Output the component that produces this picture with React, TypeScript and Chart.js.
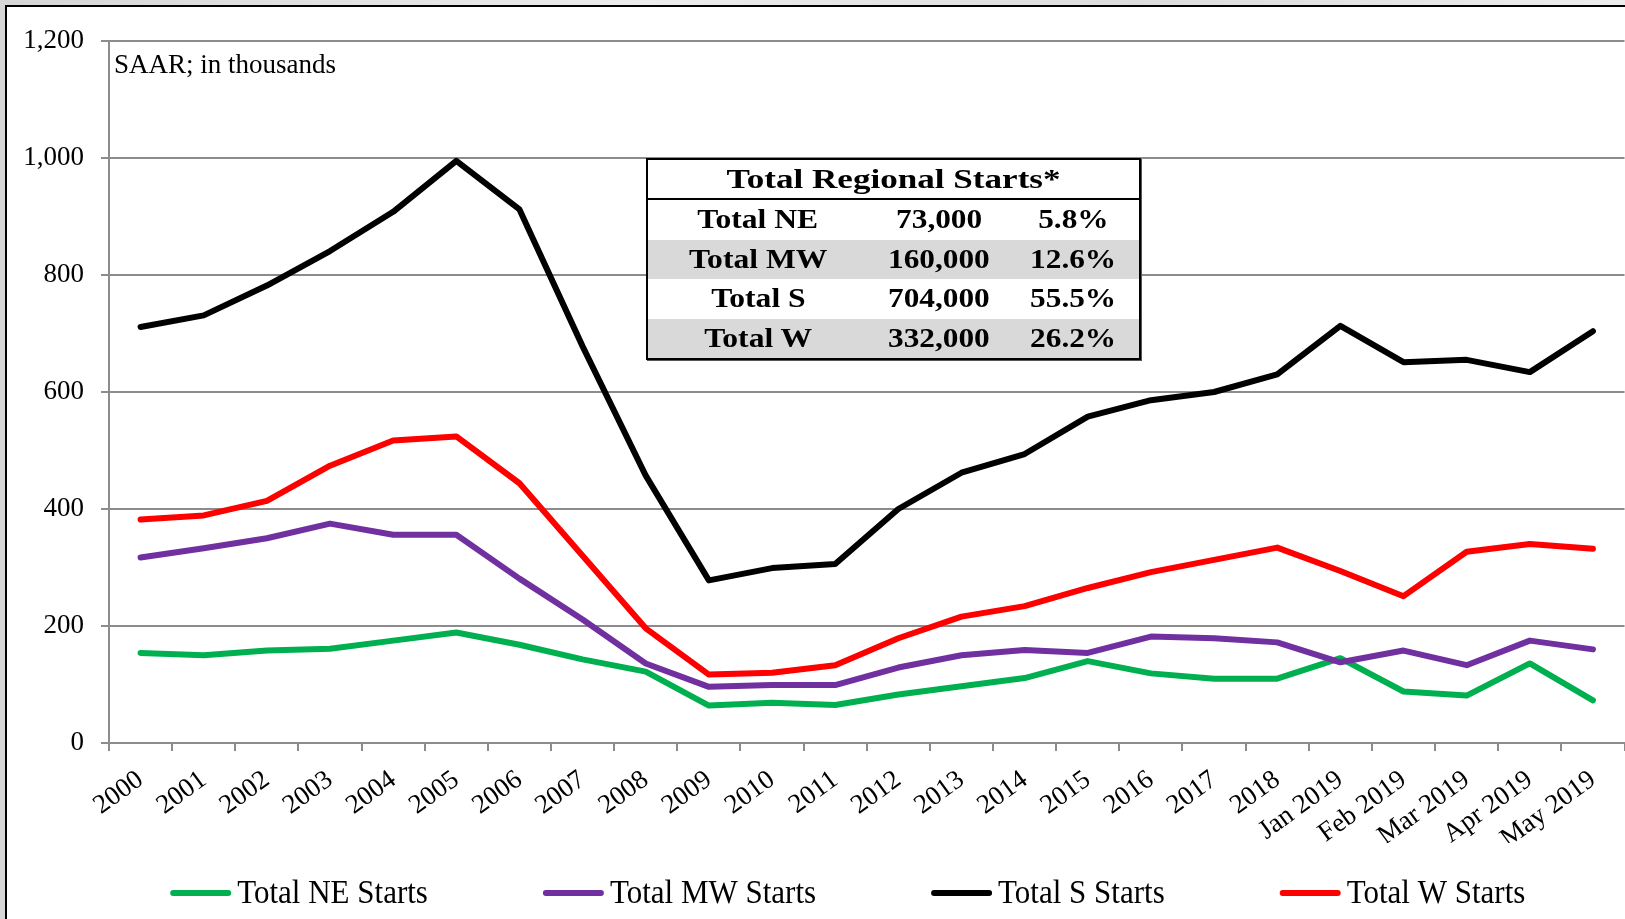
import React, { useEffect, useRef } from 'react';
import { Chart, registerables } from 'chart.js';

Chart.register(...registerables);

const categories = [
  '2000', '2001', '2002', '2003', '2004', '2005', '2006', '2007', '2008', '2009',
  '2010', '2011', '2012', '2013', '2014', '2015', '2016', '2017', '2018',
  'Jan 2019', 'Feb 2019', 'Mar 2019', 'Apr 2019', 'May 2019',
];

const neStarts = [154, 150, 158, 161, 175, 189, 168, 143, 122, 64, 69, 65, 83, 97, 111, 140, 119, 110, 110, 145, 88, 81, 136, 73];
const mwStarts = [317, 333, 350, 375, 356, 356, 281, 211, 136, 96, 99, 99, 129, 150, 159, 154, 182, 179, 172, 138, 158, 133, 175, 160];
const sStarts = [711, 731, 782, 841, 908, 995, 912, 678, 457, 278, 299, 306, 400, 462, 494, 558, 586, 600, 630, 713, 651, 655, 634, 704];
const wStarts = [382, 389, 414, 474, 517, 524, 444, 320, 196, 117, 120, 133, 179, 216, 234, 265, 292, 313, 334, 294, 251, 327, 340, 332];

const seriesLabels = ['Total NE Starts', 'Total MW Starts', 'Total S Starts', 'Total W Starts'];
const seriesColors = ['#00B050', '#7030A0', '#000000', '#FF0000'];

const yTicks = [0, 200, 400, 600, 800, 1000, 1200];
const noteText = 'SAAR; in thousands';

const tableTitle = 'Total Regional Starts*';
const tableRegions = ['Total NE', 'Total MW', 'Total S', 'Total W'];
const tableUnits = ['73,000', '160,000', '704,000', '332,000'];
const tableShares = ['5.8%', '12.6%', '55.5%', '26.2%'];

const SERIF = '"Liberation Serif", "Times New Roman", serif';

const notePlugin = {
  id: 'noteText',
  afterDraw(chart: any) {
    const { ctx, chartArea } = chart;
    ctx.save();
    ctx.font = `27px ${SERIF}`;
    ctx.fillStyle = '#000';
    ctx.textBaseline = 'middle';
    ctx.textAlign = 'left';
    ctx.fillText(noteText, chartArea.left + 5, chartArea.top + 25);
    ctx.restore();
  },
};

const legendPlugin = {
  id: 'bottomLegend',
  afterDraw(chart: any) {
    const { ctx, chartArea } = chart;
    ctx.save();
    ctx.font = `31px ${SERIF}`;
    const lineLen = 61;
    const gap = 6;
    const spacing = 115;
    const items = chart.data.datasets.map((ds: any) => ({
      label: ds.label,
      color: ds.borderColor,
      w: lineLen + gap + ctx.measureText(ds.label).width,
    }));
    const total = items.reduce((s: number, it: any) => s + it.w, 0) + spacing * (items.length - 1);
    let x = (chartArea.left + chartArea.right) / 2 - 19 - total / 2;
    const y = chartArea.bottom + 150;
    ctx.textBaseline = 'middle';
    ctx.textAlign = 'left';
    for (const it of items) {
      ctx.strokeStyle = it.color;
      ctx.lineWidth = 6;
      ctx.lineCap = 'round';
      ctx.beginPath();
      ctx.moveTo(x + 3, y);
      ctx.lineTo(x + lineLen - 3, y);
      ctx.stroke();
      ctx.fillStyle = '#000';
      ctx.save();
      ctx.translate(x + lineLen + gap, y + 1);
      ctx.scale(1, 1.1);
      ctx.fillText(it.label, 0, 0);
      ctx.restore();
      x += it.w + spacing;
    }
    ctx.restore();
  },
};

function RegionTable() {
  const cell = (text: string, scale: number, size: number) => (
    <span
      style={{
        display: 'inline-block',
        transform: `scaleX(${scale})`,
        fontSize: size,
        fontWeight: 'bold',
        whiteSpace: 'nowrap',
      }}
    >
      {text}
    </span>
  );
  const colW = [220, 142, 127];
  return (
    <div
      style={{
        position: 'absolute',
        left: 646,
        top: 158,
        width: 491,
        border: '2px solid #000',
        background: '#fff',
        fontFamily: SERIF,
        color: '#000',
        boxShadow: '1px 1px 0 #555',
      }}
    >
      <div
        style={{
          height: 38,
          lineHeight: '38px',
          textAlign: 'center',
          borderBottom: '2px solid #000',
        }}
      >
        {cell(tableTitle, 1.3, 27)}
      </div>
      {tableRegions.map((r, i) => (
        <div
          key={r}
          style={{
            display: 'flex',
            height: 39.5,
            lineHeight: '39.5px',
            background: i % 2 === 1 ? '#d9d9d9' : '#fff',
          }}
        >
          <div style={{ width: colW[0], textAlign: 'center' }}>{cell(r, 1.17, 27)}</div>
          <div style={{ width: colW[1], textAlign: 'center' }}>{cell(tableUnits[i], 1.16, 27)}</div>
          <div style={{ width: colW[2], textAlign: 'center' }}>{cell(tableShares[i], 1.16, 27)}</div>
        </div>
      ))}
    </div>
  );
}

export default function App() {
  const canvasRef = useRef<HTMLCanvasElement | null>(null);

  useEffect(() => {
    document.body.style.margin = '0';
    document.body.style.overflow = 'hidden';
    const canvas = canvasRef.current;
    if (!canvas) return;
    const data = [neStarts, mwStarts, sStarts, wStarts];
    const chart = new Chart(canvas, {
      type: 'line',
      data: {
        labels: categories,
        datasets: seriesLabels.map((label, i) => ({
          label,
          data: data[i],
          borderColor: seriesColors[i],
          backgroundColor: seriesColors[i],
          borderWidth: 6,
          pointRadius: 0,
          pointHoverRadius: 0,
          tension: 0,
          fill: false,
          borderCapStyle: 'round' as const,
          borderJoinStyle: 'round' as const,
          order: 4 - i,
        })),
      },
      options: {
        animation: false,
        responsive: false,
        maintainAspectRatio: false,
        events: [],
        layout: { padding: { top: 41, left: 0, right: 0, bottom: 76 } },
        plugins: {
          legend: { display: false },
          tooltip: { enabled: false },
          title: { display: false },
        },
        scales: {
          x: {
            type: 'category',
            offset: true,
            afterFit(scale: any) {
              scale.height = 100;
            },
            grid: {
              display: true,
              offset: true,
              drawOnChartArea: false,
              drawTicks: true,
              tickLength: 8,
              color: '#8c8c8c',
              lineWidth: 2,
            },
            border: { display: true, color: '#8c8c8c', width: 2 },
            ticks: {
              autoSkip: false,
              minRotation: 36,
              maxRotation: 36,
              padding: 13,
              color: '#000',
              font: { family: SERIF, size: 27 },
            },
          },
          y: {
            type: 'linear',
            min: 0,
            max: 1200,
            afterFit(scale: any) {
              scale.width = 109;
            },
            afterBuildTicks(scale: any) {
              scale.ticks = yTicks.map((v) => ({ value: v }));
            },
            grid: {
              color: '#8c8c8c',
              lineWidth: 2,
              drawTicks: true,
              tickLength: 8,
            },
            border: { display: true, color: '#8c8c8c', width: 2 },
            ticks: {
              padding: 17,
              color: '#000',
              font: { family: SERIF, size: 27 },
              callback: (v: any) => Number(v).toLocaleString('en-US'),
            },
          },
        },
      },
      plugins: [notePlugin, legendPlugin],
    });
    return () => chart.destroy();
  }, []);

  return (
    <div
      style={{
        position: 'fixed',
        left: 0,
        top: 0,
        width: 1625,
        height: 919,
        overflow: 'hidden',
        background: 'linear-gradient(90deg, #d6d6d6, #ececec 40%, #dcdcdc 70%, #ededed)',
      }}
    >
      <div
        style={{
          position: 'absolute',
          left: 5,
          top: 5,
          width: 1700,
          height: 1000,
          border: '2px solid #000',
          background: '#fff',
        }}
      />
      <canvas
        ref={canvasRef}
        width={1625}
        height={919}
        style={{ position: 'absolute', left: 0, top: 0, width: 1625, height: 919 }}
      />
      <RegionTable />
    </div>
  );
}
